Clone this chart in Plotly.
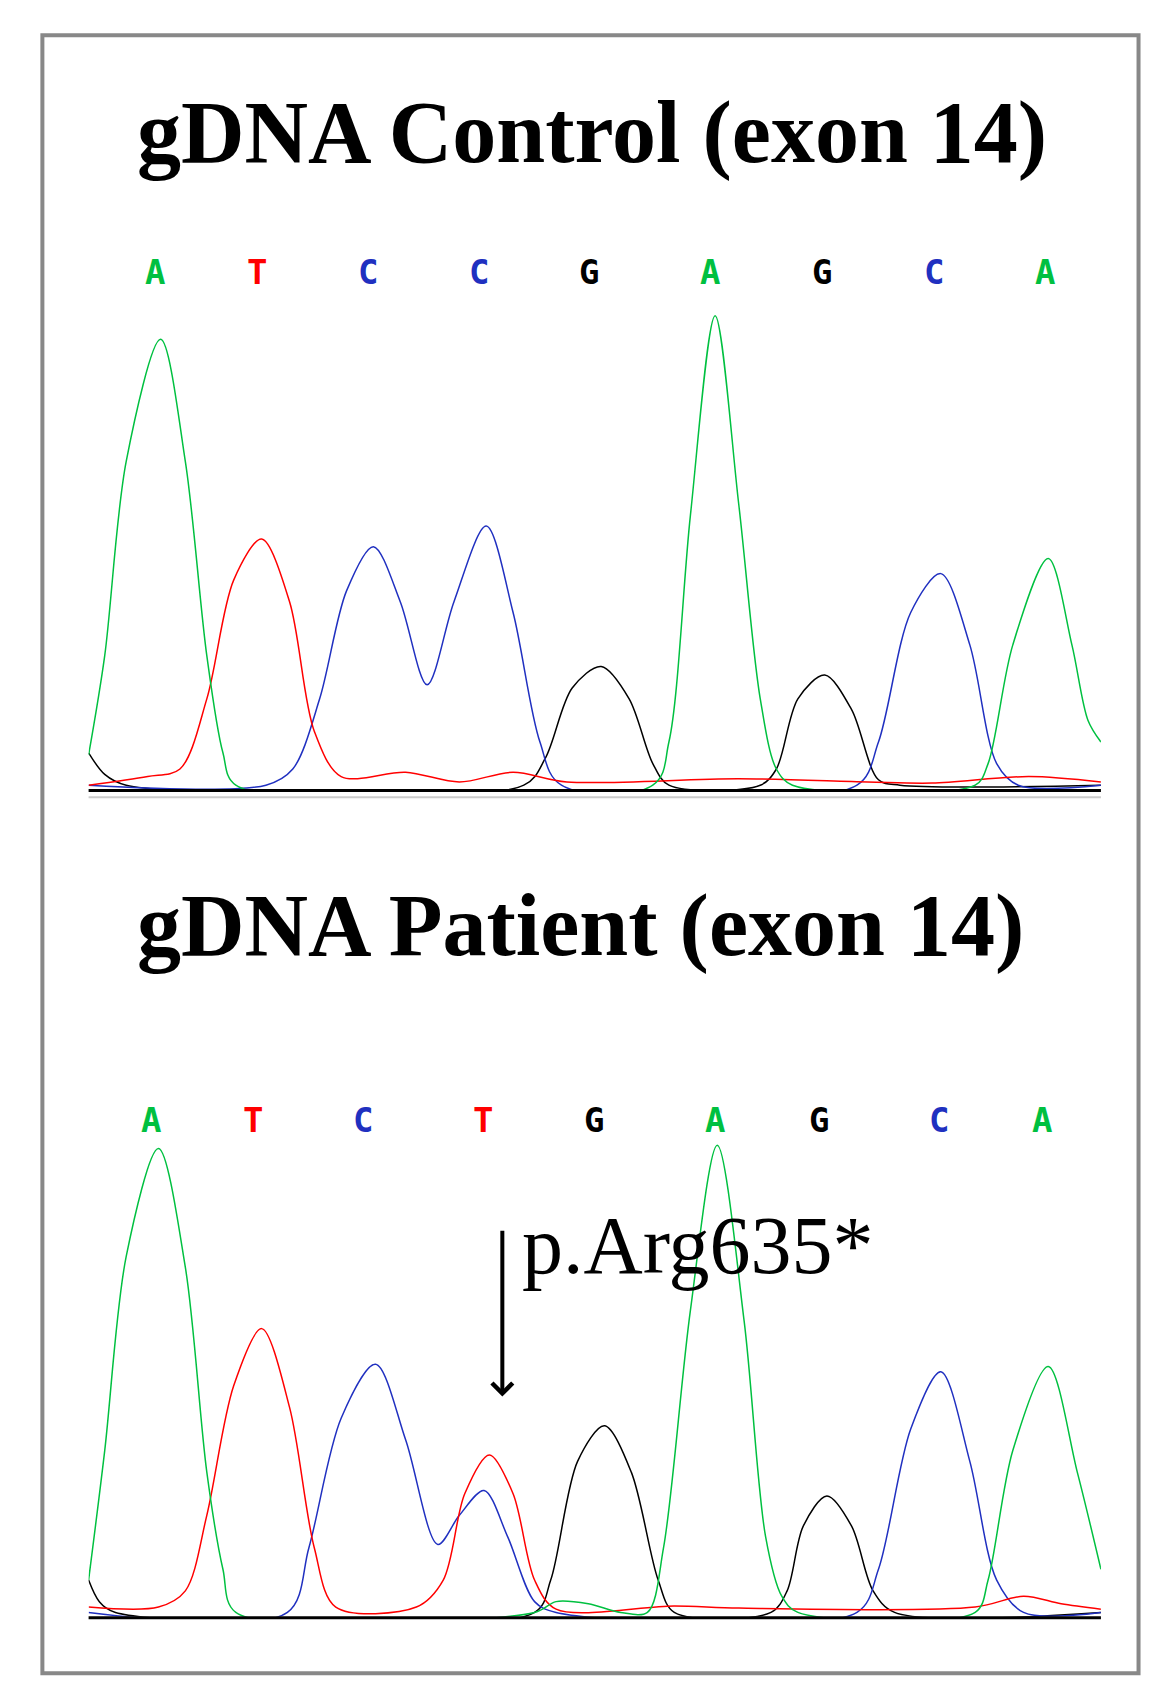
import plotly.graph_objects as go

W, H = 1166, 1698
PW, PH = 1085, 1560  # reference layout units

bases = ["A", "T", "C", "C", "G", "A", "G", "C", "A"]
bases_pat = ["A", "T", "C", "T", "G", "A", "G", "C", "A"]
base_x_ctrl = [137, 232, 335, 438, 541, 653, 757, 862, 965]
base_x_pat = [133, 228, 330, 442, 545, 658, 755, 866, 962]
colors = {"A": "#00c040", "T": "#ff0000", "C": "#2030c0", "G": "#000000"}

ctrl_green_x = [75,90,110,142,165,185,200,212,600,615,635,658,680,700,715,730,900,912,935,968,990,1005,1017]
ctrl_green_y = [28,120,300,413,300,120,30,0,0,40,250,435,260,80,15,0,0,20,130,210,130,60,40]
ctrl_red_x = [75,130,160,185,210,236,262,285,310,370,420,470,520,680,800,860,950,1017]
ctrl_red_y = [0,8,15,80,190,228,170,50,8,12,3,12,3,6,3,2,8,3]
ctrl_blue_x = [75,240,265,290,315,340,365,390,415,445,470,495,515,790,810,840,868,895,920,940,1017]
ctrl_blue_y = [0,0,15,80,180,221,170,93,170,240,160,40,0,0,40,160,196,130,20,0,0]
ctrl_black_x = [75,90,110,480,500,525,552,578,600,615,700,715,735,760,785,810,830,1017]
ctrl_black_y = [30,10,0,0,25,90,110,80,20,0,0,15,80,102,70,5,0,0]

pat_green_x = [75,90,110,140,165,185,200,212,490,510,540,570,595,610,635,660,685,705,720,735,900,912,935,968,995,1017]
pat_green_y = [30,150,330,430,320,130,40,0,0,10,8,0,0,60,280,433,270,70,15,0,0,30,150,228,130,40]
pat_red_x = [75,140,165,185,210,236,262,285,305,380,405,425,448,470,490,510,620,680,900,945,980,1017]
pat_red_y = [5,5,20,90,210,263,190,60,5,5,30,110,146,110,30,3,6,4,5,15,8,3]
pat_blue_x = [75,260,280,310,342,370,400,420,443,465,490,510,790,810,840,868,895,920,945,1017]
pat_blue_y = [0,0,60,180,230,160,63,90,113,70,10,0,0,40,170,223,140,30,0,0]
pat_black_x = [75,85,100,490,505,530,555,580,605,620,710,725,740,762,785,805,825,1017]
pat_black_y = [30,10,0,0,30,140,173,130,30,0,0,20,80,108,80,20,0,0]

fig = go.Figure()

def add(xs, ys, col, ax):
    fig.add_trace(go.Scatter(x=xs, y=ys, mode="lines", line=dict(color=col, width=1.5, shape="spline", smoothing=0.9),
                             xaxis="x" + ax, yaxis="y" + ax, showlegend=False, hoverinfo="skip"))

add(ctrl_black_x, ctrl_black_y, "#000000", "")
add(ctrl_blue_x, ctrl_blue_y, "#2030c0", "")
add(ctrl_red_x, ctrl_red_y, "#ff0000", "")
add(ctrl_green_x, ctrl_green_y, "#00c040", "")
add(pat_black_x, pat_black_y, "#000000", "2")
add(pat_blue_x, pat_blue_y, "#2030c0", "2")
add(pat_red_x, pat_red_y, "#ff0000", "2")
add(pat_green_x, pat_green_y, "#00c040", "2")

for b, x in zip(bases, base_x_ctrl):
    fig.add_annotation(x=x, y=475, xref="x", yref="y", text="<b>" + b + "</b>", showarrow=False,
                       font=dict(family="DejaVu Sans Mono", size=34, color=colors[b]))
for b, x in zip(bases_pat, base_x_pat):
    fig.add_annotation(x=x, y=456, xref="x2", yref="y2", text="<b>" + b + "</b>", showarrow=False,
                       font=dict(family="DejaVu Sans Mono", size=34, color=colors[b]))

fig.add_annotation(x=543/PW, y=1-68/PH, xref="paper", yref="paper", text="<b>gDNA Control (exon 14)</b>",
                   showarrow=False, font=dict(family="Liberation Serif", size=88, color="black"))
fig.add_annotation(x=533/PW, y=1-843/PH, xref="paper", yref="paper", text="<b>gDNA Patient (exon 14)</b>",
                   showarrow=False, font=dict(family="Liberation Serif", size=88, color="black"))
fig.add_annotation(x=460, y=200, xref="x2", yref="y2", ax=460, ay=355, axref="x2", ayref="y2",
                   showarrow=True, arrowhead=4, arrowsize=1.0, arrowwidth=4, arrowcolor="black", text="")
fig.add_annotation(x=476, y=340, xref="x2", yref="y2", text="p.Arg635*", xanchor="left", showarrow=False,
                   font=dict(family="Liberation Serif", size=82, color="black"))

fig.add_shape(type="rect", xref="paper", yref="paper", x0=32/PW, x1=1052/PW, y0=1-1530/PH, y1=1-25/PH,
              line=dict(color="#888888", width=4))

axx = dict(range=[75, 1017], showgrid=False, zeroline=False, showticklabels=False, ticks="",
           showline=False)
fig.update_layout(
    width=W, height=H, margin=dict(l=0, r=0, t=0, b=0),
    plot_bgcolor="white", paper_bgcolor="white",
    xaxis=dict(domain=[75/PW, 1017/PW], anchor="y", **axx),
    yaxis=dict(domain=[1-718/PH, 1-238/PH], range=[-4, 480], visible=False),
    xaxis2=dict(domain=[75/PW, 1017/PW], anchor="y2", **axx),
    yaxis2=dict(domain=[1-1478/PH, 1-1017/PH], range=[-4, 461], visible=False),
)
for yy in [1-719/PH, 1-1479/PH]:
    fig.add_shape(type="line", xref="paper", yref="paper", x0=75/PW, x1=1017/PW, y0=yy, y1=yy,
                  line=dict(color="black", width=3))
fig.add_shape(type="line", xref="paper", yref="paper", x0=75/PW, x1=1017/PW, y0=1-725/PH, y1=1-725/PH,
              line=dict(color="#cccccc", width=2))

fig.write_html("out.html")
